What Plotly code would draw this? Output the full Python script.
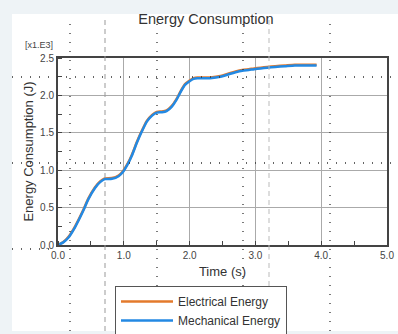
import plotly.graph_objects as go

# ---- data (energy in kJ, axis shows [x1.E3]) ----
time_s = [0, 0.08, 0.16, 0.26, 0.38, 0.46, 0.56, 0.64, 0.71, 0.82,
          0.92, 0.99, 1.06, 1.12, 1.2, 1.27, 1.35, 1.43, 1.5, 1.58,
          1.65, 1.73, 1.8, 1.86, 1.93, 2.0, 2.06, 2.12, 2.2, 2.31,
          2.4, 2.47, 2.55, 2.62, 2.7, 2.8, 2.9, 2.98, 3.08, 3.18,
          3.3, 3.45, 3.6, 3.75, 3.93]
electrical = [0, 0.04, 0.11, 0.25, 0.46, 0.62, 0.77, 0.85, 0.89, 0.895,
              0.93, 0.99, 1.09, 1.2, 1.38, 1.52, 1.66, 1.74, 1.78, 1.785,
              1.8, 1.86, 1.95, 2.05, 2.15, 2.20, 2.23, 2.24, 2.24, 2.24,
              2.25, 2.26, 2.28, 2.30, 2.32, 2.34, 2.35, 2.36, 2.37, 2.38,
              2.39, 2.40, 2.41, 2.41, 2.41]
mechanical = [0, 0.035, 0.10, 0.24, 0.45, 0.61, 0.76, 0.84, 0.88, 0.885,
              0.92, 0.98, 1.08, 1.19, 1.37, 1.51, 1.65, 1.73, 1.77, 1.775,
              1.79, 1.85, 1.94, 2.04, 2.14, 2.19, 2.22, 2.23, 2.23, 2.23,
              2.24, 2.25, 2.27, 2.29, 2.31, 2.33, 2.34, 2.35, 2.36, 2.37,
              2.38, 2.39, 2.40, 2.40, 2.40]
series_names = ["Electrical Energy", "Mechanical Energy"]
series_colors = ["#e37a2c", "#2389e3"]
x_ticks = [0, 1, 2, 3, 4, 5]
x_tick_labels = ["0.0", "1.0", "2.0", "3.0", "4.0", "5.0"]
y_ticks = [0, 0.5, 1.0, 1.5, 2.0, 2.5]
y_tick_labels = ["0.0", "0.5", "1.0", "1.5", "2.0", "2.5"]

W, H = 398, 334
L, R, T, B = 58, 387, 58, 245  # plot area pixel box


def px(xp):
    return (xp - L) / (R - L)


def py(yp):
    return (B - yp) / (B - T)


fig = go.Figure()
for name, ys, col in zip(series_names, [electrical, mechanical], series_colors):
    fig.add_trace(go.Scatter(x=time_s, y=ys, mode="lines", name=name,
                             line=dict(color=col, width=2.5, shape="spline", smoothing=0.6)))

shapes = []
# white card
shapes.append(dict(type="rect", xref="paper", yref="paper", layer="below",
                   x0=px(12), x1=px(400), y0=py(331), y1=py(14),
                   fillcolor="white", line=dict(width=0)))
# overlay guide lines
for xv in [70, 157, 243, 330]:
    shapes.append(dict(type="line", xref="paper", yref="paper", layer="above",
                       x0=px(xv), x1=px(xv), y0=py(331), y1=py(16),
                       line=dict(color="#333", width=1.3, dash="1px,8px")))
for xv, c in [(105, "#999"), (269, "#bbb")]:
    shapes.append(dict(type="line", xref="paper", yref="paper", layer="above",
                       x0=px(xv), x1=px(xv), y0=py(331), y1=py(16),
                       line=dict(color=c, width=1, dash="5px,4px")))
for yv in [77, 163]:
    shapes.append(dict(type="line", xref="paper", yref="paper", layer="above",
                       x0=px(12), x1=px(398), y0=py(yv), y1=py(yv),
                       line=dict(color="#333", width=1.3, dash="1px,8px")))
shapes.append(dict(type="line", xref="paper", yref="paper", layer="above",
                   x0=px(12), x1=px(56), y0=py(249), y1=py(249),
                   line=dict(color="#333", width=1.3, dash="1px,8px")))

fig.update_layout(
    width=W, height=H,
    margin=dict(l=L, r=W - R, t=T, b=H - B, autoexpand=False),
    paper_bgcolor="#eef3f6",
    plot_bgcolor="white",
    font=dict(family="Liberation Sans, Arial, sans-serif", color="#333"),
    title=dict(text="Energy Consumption", x=px(206), xanchor="center", xref="paper",
               y=1 - 19 / H, yanchor="middle", font=dict(size=14.5, color="#333")),
    showlegend=True,
    legend=dict(x=px(115), y=py(286), xanchor="left", yanchor="top",
                bgcolor="white", bordercolor="#555", borderwidth=1,
                font=dict(size=12, color="#333"), tracegroupgap=0,
                itemwidth=52),
    shapes=shapes,
    annotations=[dict(text="[x1.E3]", xref="paper", yref="paper",
                      x=px(55), y=py(45), xanchor="right", yanchor="middle",
                      showarrow=False, font=dict(size=9, color="#444"))],
)
fig.update_xaxes(range=[0, 5], tickvals=x_ticks, ticktext=x_tick_labels,
                 showgrid=True, gridcolor="#aaaaaa", gridwidth=1,
                 showline=True, linecolor="#444", linewidth=2, mirror=True,
                 ticks="", tickfont=dict(size=10, color="#444"),
                 minor=dict(dtick=0.5, ticks="inside", ticklen=4, tickcolor="#444", showgrid=False),
                 zeroline=False,
                 title=dict(text="Time (s)", font=dict(size=13, color="#333"), standoff=7))
fig.update_yaxes(range=[0, 2.5], tickvals=y_ticks, ticktext=y_tick_labels,
                 showgrid=True, gridcolor="#aaaaaa", gridwidth=1,
                 showline=True, linecolor="#444", linewidth=2, mirror=True,
                 ticks="", tickfont=dict(size=10, color="#444"),
                 minor=dict(dtick=0.25, ticks="inside", ticklen=4, tickcolor="#444", showgrid=False),
                 zeroline=False,
                 title=dict(text="Energy Consumption (J)", font=dict(size=13, color="#333"), standoff=4))

fig.write_html("out.html", config={"displayModeBar": False},
               post_script="document.body.style.margin='0';document.body.style.padding='0';"
                           "document.body.style.background='#eef3f6';"
                           "document.documentElement.style.overflow='hidden';")
